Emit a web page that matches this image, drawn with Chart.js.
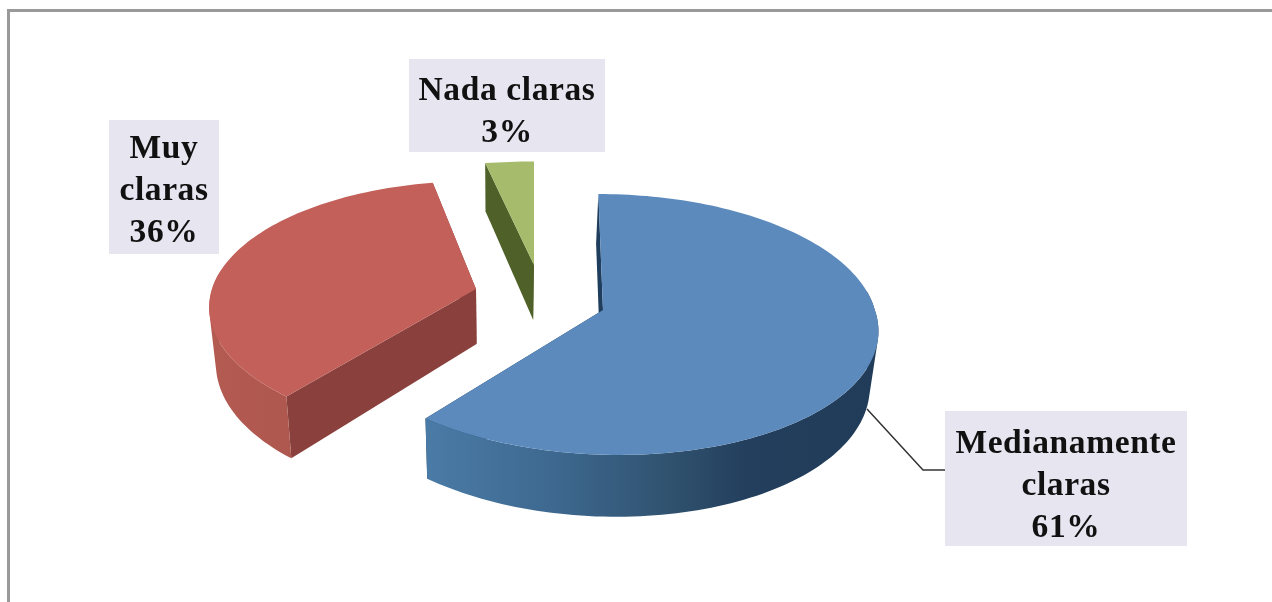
<!DOCTYPE html>
<html>
<head>
<meta charset="utf-8">
<title>Claridad</title>
<script src="https://cdn.jsdelivr.net/npm/chart.js@4"></script>
<style>
  html, body { margin: 0; padding: 0; background: #fff; }
  canvas { display: block; filter: blur(0.5px); }
</style>
</head>
<body>
<canvas id="pie" width="1272" height="602"></canvas>
<script>
const categories = [["Medianamente", "claras"], ["Muy", "claras"], ["Nada claras"]];
const percentages = [61, 36, 3];
const topColors = ["#5c8abd", "#c3605a", "#a6bc6c"];
const cutColors = ["#1f3d5c", "#8a403c", "#4f6128"];
const wallStops = [
  [[0, "#4a7ba6"], [0.3, "#3d678e"], [0.55, "#30526f"], [0.72, "#233f5d"], [1, "#213c59"]],
  [[0, "#b35a51"], [1, "#a5534b"]],
  [[0, "#4f6128"], [1, "#4f6128"]]
];

// where each exploded slice sits relative to the chart centre, and how it is foreshortened
const sliceShift = [[-33, 9], [-160, -12], [-102, -36]];
const sliceScaleX = [0.903, 0.877, 0.99];
const sliceScaleY = [0.428, 0.411, 0.394];
const slicePerspective = [0.111, 0.146, 0.146];
const shearFar = [0.04, 0, 0];
const shearNear = [0.11, 0, 0];
const depth = 55;
const vanishX = 500;
const converge = 0.977;

const labelBoxes = [
  { x: 945, y: 411, w: 242, h: 135, baseline: 453 },
  { x: 109, y: 120, w: 110, h: 134, baseline: 158 },
  { x: 409, y: 59, w: 196, h: 93, baseline: 100 }
];
const linePitch = 42;
const leader = [[867, 409], [923, 470], [945, 470]];

function project(el, i, u, v, low) {
  let s = 1 / (1 - slicePerspective[i] * v);
  let dy = v * el.outerRadius * sliceScaleY[i] * s;
  let shear = dy < 0 ? shearFar[i] : shearNear[i];
  let x = el.x + sliceShift[i][0] + u * el.outerRadius * sliceScaleX[i] * s + dy * shear;
  let y = el.y + sliceShift[i][1] + dy;
  if (low) {
    x = vanishX + (x - vanishX) * converge;
    y += depth * s;
  }
  return [x, y];
}

function arcAngles(el) {
  let list = [];
  let steps = Math.max(4, Math.ceil((el.endAngle - el.startAngle) * 40));
  for (let k = 0; k <= steps; k++) {
    list.push(el.startAngle + (el.endAngle - el.startAngle) * k / steps);
  }
  return list;
}

function tracePoly(ctx, pts) {
  pts.forEach((p, k) => k ? ctx.lineTo(p[0], p[1]) : ctx.moveTo(p[0], p[1]));
  ctx.closePath();
}

function fillPoly(ctx, pts, fill) {
  ctx.beginPath();
  tracePoly(ctx, pts);
  ctx.fillStyle = fill;
  ctx.fill();
}

function signedArea(pts) {
  let area = 0;
  pts.forEach((p, k) => {
    let q = pts[(k + 1) % pts.length];
    area += p[0] * q[1] - q[0] * p[1];
  });
  return area;
}

function drawSlice(ctx, el, i) {
  let angles = arcAngles(el);
  let top = angles.map(a => project(el, i, Math.cos(a), Math.sin(a), false));
  let low = angles.map(a => project(el, i, Math.cos(a), Math.sin(a), true));
  let apex = project(el, i, 0, 0, false);
  let apexLow = project(el, i, 0, 0, true);

  // the two cut faces
  fillPoly(ctx, [apex, top[0], low[0], apexLow], cutColors[i]);
  fillPoly(ctx, [apex, top[top.length - 1], low[low.length - 1], apexLow], cutColors[i]);

  // outer wall: near side only, all quads in one path with the same winding
  let xs = low.map(p => p[0]);
  let grad = ctx.createLinearGradient(Math.min(...xs), 0, Math.max(...xs), 0);
  wallStops[i].forEach(s => grad.addColorStop(s[0], s[1]));
  ctx.beginPath();
  for (let k = 0; k < top.length - 1; k++) {
    if (Math.sin(angles[k]) < -0.15 && Math.sin(angles[k + 1]) < -0.15) continue;
    let quad = [top[k], top[k + 1], low[k + 1], low[k]];
    if (signedArea(quad) < 0) quad.reverse();
    tracePoly(ctx, quad);
  }
  ctx.fillStyle = grad;
  ctx.fill();

  // top face
  fillPoly(ctx, [apex].concat(top), topColors[i]);
}

const pie3d = {
  id: "pie3d",
  beforeDatasetDraw(chart) {
    let ctx = chart.ctx;
    let arcs = chart.getDatasetMeta(0).data;
    ctx.save();
    for (let i = arcs.length - 1; i >= 0; i--) {
      drawSlice(ctx, arcs[i], i);
    }
    ctx.restore();
    return false;
  },
  afterDatasetsDraw(chart) {
    let ctx = chart.ctx;
    ctx.save();

    // frame of the picture, only top and left show
    ctx.fillStyle = "#999999";
    ctx.fillRect(7, 9, 1265, 3);
    ctx.fillRect(7, 9, 3, 593);

    // leader line
    ctx.strokeStyle = "#333333";
    ctx.lineWidth = 1.5;
    ctx.beginPath();
    leader.forEach((p, k) => k ? ctx.lineTo(p[0], p[1]) : ctx.moveTo(p[0], p[1]));
    ctx.stroke();

    // data labels
    ctx.font = "bold 33.5px 'Liberation Serif'";
    ctx.letterSpacing = "0.6px";
    ctx.textAlign = "center";
    ctx.textBaseline = "alphabetic";
    categories.forEach((lines, i) => {
      let box = labelBoxes[i];
      ctx.fillStyle = "#e7e5ef";
      ctx.fillRect(box.x, box.y, box.w, box.h);
      ctx.fillStyle = "#111111";
      lines.concat(percentages[i] + "%").forEach((line, n) => {
        ctx.fillText(line, box.x + box.w / 2, box.baseline + n * linePitch);
      });
    });
    ctx.restore();
  }
};

new Chart(document.getElementById("pie").getContext("2d"), {
  type: "pie",
  data: {
    labels: categories,
    datasets: [{ data: percentages, backgroundColor: topColors, borderWidth: 0 }]
  },
  options: {
    responsive: false,
    animation: false,
    plugins: { legend: { display: false }, tooltip: { enabled: false } }
  },
  plugins: [pie3d]
});
</script>
</body>
</html>
